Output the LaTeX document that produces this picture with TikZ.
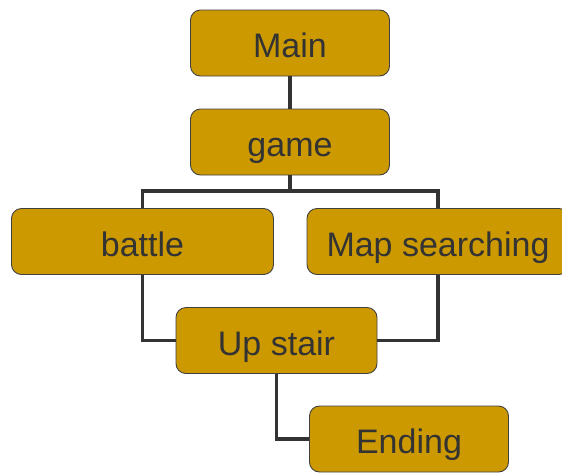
\documentclass[tikz,border=0pt]{standalone}
\usepackage{fontspec}
\setmainfont{Liberation Sans}
\usepackage{tikz}
\definecolor{gold}{HTML}{CC9900}
\definecolor{edge}{HTML}{404040}
\definecolor{ink}{HTML}{333333}

\begin{document}
\begin{tikzpicture}[x=1pt,y=-1pt,
  box/.style={rectangle,rounded corners=10pt,draw=edge,line width=0.9pt,fill=gold,
    text=ink,minimum height=66pt,font=\fontsize{34}{40}\selectfont,inner sep=0pt,
    text height=29pt,text depth=0pt},
  small/.style={box,minimum width=199pt},
  wide/.style={box,minimum width=262pt},
  link/.style={draw=ink,line width=3.5pt}]
\useasboundingbox (0,0) rectangle (562,472);
\node [small] (a) at (290,43) {Main};
\node [small] (b) at (290,142) {game};
\node [wide] (c) at (142.5,241.5) {battle};
\node [wide] (d) at (438,241.5) {Map searching};
\node [small,minimum width=201pt] (e) at (276.5,340.5) {Up stair};
\node [small] (f) at (409,439) {Ending};
\coordinate (j) at (290,191);
% connectors
\draw [link] (a) -- (b);
\draw [link] (b) -- (j);
\draw [link] (c.north) |- (j) -| (d.north);
\draw [link] (c.south) |- (e.west);
\draw [link] (d.south) |- (e.east);
\draw [link] (e.south) |- (f.west);
\end{tikzpicture}
\end{document}
